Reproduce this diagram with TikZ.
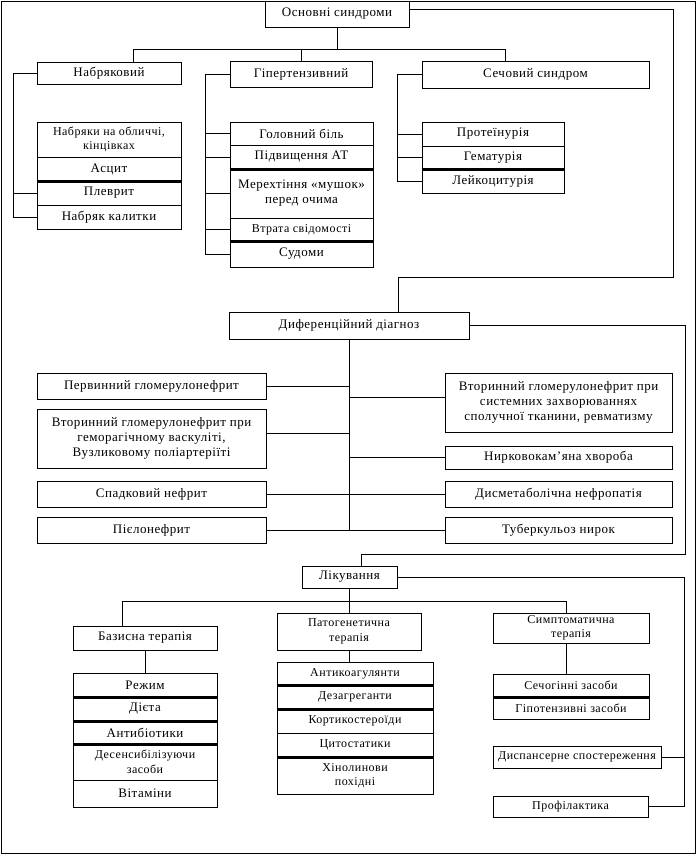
\documentclass[tikz,border=0pt]{standalone}
\usepackage{fontspec}
\setmainfont{Liberation Serif}[LetterSpace=4]
\usetikzlibrary{calc}
\newcommand\mainsz{\fontsize{13}{15}\selectfont}
\newcommand\smallsz{\fontsize{12}{14.5}\selectfont}
\tikzset{
  box/.style={draw, line width=0.9pt, inner sep=0pt, align=center, font=\mainsz},
  sm/.style={font=\smallsz},
  conn/.style={line width=0.9pt},
  sepline/.style={line width=2.2pt},
}
\newcommand\rbox[7]{\node[box,#7, minimum width={(#4-#2)*1pt}, minimum height={(#5-#3)*1pt}] (#1) at ({(#2+#4)/2},{(#3+#5)/2}) {#6};}
\begin{document}
\begin{tikzpicture}[x=1pt,y=-1pt]
\useasboundingbox (0,0) rectangle (698,854);
\draw[conn] (1,1) rectangle (695,853);

% top level
\rbox{osn}{265}{1}{409}{27}{Основні синдроми}{}
\rbox{nab}{37}{62}{181}{84}{Набряковий}{}
\rbox{hyp}{230}{61}{372}{87}{Гіпертензивний}{}
\rbox{sech}{422}{61}{649}{88}{Сечовий синдром}{}

% Набряковий list
\rbox{n1}{37}{122}{181}{157}{Набряки на обличчі,\\кінцівках}{sm}
\rbox{n2}{37}{157}{181}{181}{Асцит}{}
\rbox{n3}{37}{181}{181}{205}{Плеврит}{}
\rbox{n4}{37}{205}{181}{229}{Набряк калитки}{}
\draw[sepline] (n2.south west) -- (n2.south east);

% Гіпертензивний list
\rbox{h1}{230}{122}{373}{145}{Головний біль}{}
\rbox{h2}{230}{145}{373}{169}{Підвищення АТ}{}
\rbox{h3}{230}{169}{373}{218}{Мерехтіння «мушок»\\перед очима}{}
\rbox{h4}{230}{218}{373}{241}{Втрата свідомості}{sm}
\rbox{h5}{230}{241}{373}{267}{Судоми}{}
\draw[sepline] (h2.south west) -- (h2.south east);
\draw[sepline] (h4.south west) -- (h4.south east);

% Сечовий list
\rbox{s1}{422}{122}{564}{146}{Протеїнурія}{}
\rbox{s2}{422}{146}{564}{169}{Гематурія}{}
\rbox{s3}{422}{169}{564}{193}{Лейкоцитурія}{}
\draw[sepline] (s2.south west) -- (s2.south east);

% connectors top
\coordinate (barL) at (133,49);
\coordinate (barR) at (505,49);
\draw[conn] (osn.south) -- (osn.south |- barL);
\draw[conn] (barL) -- (barR);
\draw[conn] (barL) -- (barL |- nab.north);
\draw[conn] (hyp.north |- barL) -- (hyp.north);
\draw[conn] (barR) -- (barR |- sech.north);
\coordinate (nbx) at (13,0);
\draw[conn] (nab.west) -- (nab.west -| nbx) -- (nbx |- n4.west) -- (n4.west);
\draw[conn] (n3.west -| nbx) -- (n3.west);
\coordinate (hbx) at (205,0);
\draw[conn] (hyp.west) -- (hyp.west -| hbx) -- (hbx |- h5.west) -- (h5.west);
\foreach \r in {h1,h2,h3,h4} \draw[conn] (\r.west -| hbx) -- (\r.west);
\coordinate (sbx) at (397,0);
\draw[conn] (sech.west) -- (sech.west -| sbx) -- (sbx |- s3.west) -- (s3.west);
\foreach \r in {s1,s2} \draw[conn] (\r.west -| sbx) -- (\r.west);

% differential diagnosis
\rbox{diff}{229}{312}{469}{339}{Диференційний діагноз}{}
\rbox{pg}{37}{373}{266}{399}{Первинний гломерулонефрит}{}
\rbox{vg}{37}{409}{266}{468}{Вторинний гломерулонефрит при\\геморагічному васкуліті,\\Вузликовому поліартеріїті}{}
\rbox{spn}{37}{481}{266}{507}{Спадковий нефрит}{}
\rbox{pie}{37}{517}{266}{543}{Пієлонефрит}{}
\rbox{vs}{445}{373}{672}{432}{Вторинний гломерулонефрит при\\системних захворюваннях\\сполучної тканини, ревматизму}{}
\rbox{nk}{445}{446}{672}{469}{Нирковокам’яна хвороба}{}
\rbox{dm}{445}{481}{672}{507}{Дисметаболічна нефропатія}{}
\rbox{tb}{445}{517}{672}{543}{Туберкульоз нирок}{}

\coordinate (r1) at (673,9);
\coordinate (r2) at (673,277);
\coordinate (r3) at (398,277);
\draw[conn] (osn.east |- r1) -- (r1) -- (r2) -- (r3) -- (r3 |- diff.north);

\coordinate (dv) at (349,530);
\draw[conn] (diff.south) -- (diff.south |- dv);
\draw[conn] (pg.east) -- (pg.east -| dv);
\coordinate (vgs) at (349,433);
\draw[conn] (vgs -| vg.east) -- (vgs);
\draw[conn] (spn.east) -- (spn.east -| dv);
\draw[conn] (pie.east) -- (pie.east -| dv);
\coordinate (vss) at (349,397);
\draw[conn] (vss) -- (vss -| vs.west);
\draw[conn] (nk.west) -- (nk.west -| dv);
\draw[conn] (dm.west) -- (dm.west -| dv);
\draw[conn] (tb.west) -- (tb.west -| dv);

% treatment
\rbox{lik}{302}{566}{397}{588}{Лікування}{}
\rbox{bas}{73}{626}{217}{650}{Базисна терапія}{}
\rbox{pat}{277}{613}{421}{650}{Патогенетична\\терапія}{sm}
\rbox{sym}{493}{613}{649}{643}{Симптоматична\\терапія}{sm}

\rbox{b1}{73}{673}{217}{697}{Режим}{}
\rbox{b2}{73}{697}{217}{721}{Дієта}{}
\rbox{b3}{73}{721}{217}{744}{Антибіотики}{}
\rbox{b4}{73}{744}{217}{780}{Десенсибілізуючи\\засоби}{sm}
\rbox{b5}{73}{780}{217}{807}{Вітаміни}{}
\draw[sepline] (b1.south west) -- (b1.south east);
\draw[sepline] (b2.south west) -- (b2.south east);
\draw[sepline] (b3.south west) -- (b3.south east);

\rbox{p1}{277}{662}{433}{685}{Антикоагулянти}{sm}
\rbox{p2}{277}{685}{433}{709}{Дезагреганти}{sm}
\rbox{p3}{277}{709}{433}{733}{Кортикостероїди}{sm}
\rbox{p4}{277}{733}{433}{757}{Цитостатики}{sm}
\rbox{p5}{277}{757}{433}{794}{Хінолинови\\похідні}{sm}
\draw[sepline] (p1.south west) -- (p1.south east);
\draw[sepline] (p2.south west) -- (p2.south east);
\draw[sepline] (p4.south west) -- (p4.south east);

\rbox{y1}{493}{674}{649}{697}{Сечогінні засоби}{sm}
\rbox{y2}{493}{697}{649}{719}{Гіпотензивні засоби}{sm}
\draw[sepline] (y1.south west) -- (y1.south east);

\rbox{disp}{493}{746}{661}{768}{Диспансерне спостереження}{sm}
\rbox{prof}{493}{796}{648}{817}{Профілактика}{sm}

\coordinate (q1) at (685,554);
\coordinate (q2) at (361,554);
\draw[conn] (diff.east) -- (diff.east -| q1) -- (q1) -- (q2) -- (q2 |- lik.north);

\coordinate (lx) at (684,0);
\draw[conn] (lik.east) -- (lik.east -| lx) -- (lx |- prof.east) -- (prof.east);
\draw[conn] (disp.east) -- (disp.east -| lx);

\coordinate (tbL) at (122,601);
\coordinate (tbR) at (566,601);
\draw[conn] (lik.south) -- (lik.south |- tbL);
\draw[conn] (tbL) -- (tbR);
\draw[conn] (tbL) -- (tbL |- bas.north);
\draw[conn] (pat.north |- tbL) -- (pat.north);
\draw[conn] (tbR) -- (tbR |- sym.north);
\draw[conn] (bas.south) -- (b1.north -| bas.south);
\draw[conn] (pat.south) -- (p1.north -| pat.south);
\draw[conn] (sym.south -| tbR) -- (y1.north -| tbR);
\end{tikzpicture}
\end{document}
